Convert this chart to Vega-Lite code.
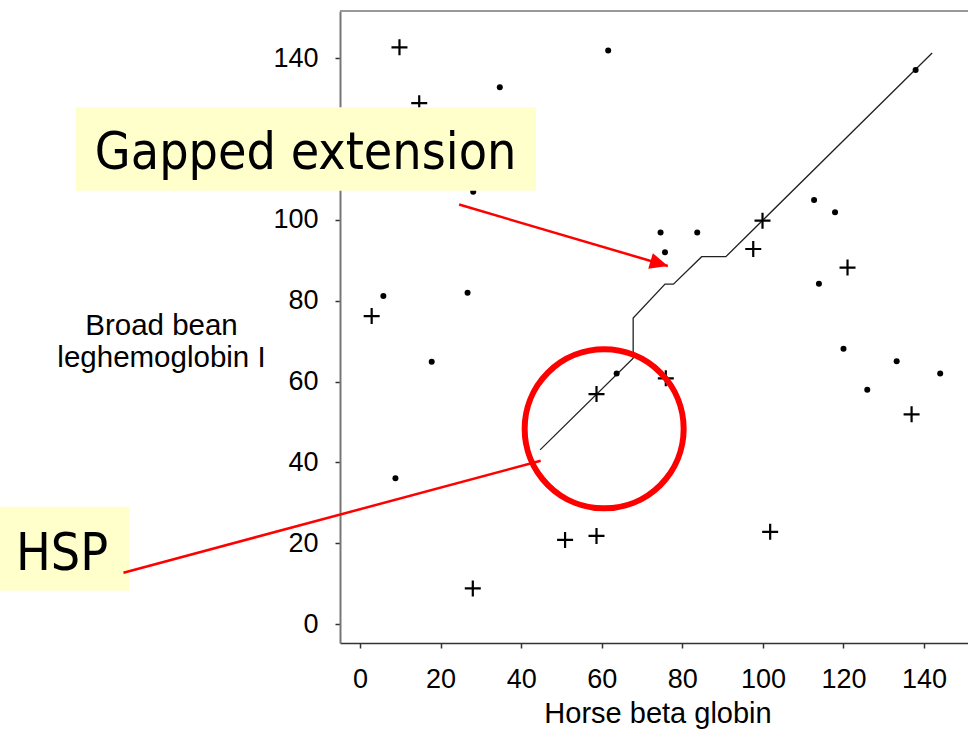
{
  "$schema": "https://vega.github.io/schema/vega-lite/v6.json",
  "width": 628,
  "height": 632,
  "autosize": {"type": "none"},
  "padding": {"left": 340, "top": 11, "right": 0, "bottom": 87},
  "background": "white",
  "config": {"view": {"stroke": null}},
  "datasets": {
    "path": [
      {"x": 44.7, "y": 43.1, "order": 1},
      {"x": 67.8, "y": 65.8, "order": 2},
      {"x": 67.8, "y": 75.7, "order": 3},
      {"x": 75.7, "y": 84.1, "order": 4},
      {"x": 77.8, "y": 84.1, "order": 5},
      {"x": 84.8, "y": 90.9, "order": 6},
      {"x": 90.8, "y": 90.9, "order": 7},
      {"x": 142.0, "y": 141.3, "order": 8}
    ],
    "plus": [
      {"x": 9.8, "y": 142.7},
      {"x": 14.7, "y": 128.9},
      {"x": 2.9, "y": 76.2},
      {"x": 58.7, "y": 56.9},
      {"x": 75.9, "y": 60.8},
      {"x": 50.9, "y": 20.8},
      {"x": 58.7, "y": 21.8},
      {"x": 28.0, "y": 8.8},
      {"x": 97.6, "y": 92.8},
      {"x": 99.9, "y": 99.8},
      {"x": 121.0, "y": 88.2},
      {"x": 136.9, "y": 51.9},
      {"x": 101.8, "y": 22.8}
    ],
    "dot": [
      {"x": 61.6, "y": 141.9},
      {"x": 34.7, "y": 132.8},
      {"x": 5.8, "y": 81.2},
      {"x": 26.7, "y": 82.0},
      {"x": 28.1, "y": 107.0},
      {"x": 8.8, "y": 36.1},
      {"x": 17.8, "y": 64.9},
      {"x": 63.7, "y": 62.0},
      {"x": 74.6, "y": 96.9},
      {"x": 75.7, "y": 92.0},
      {"x": 83.7, "y": 96.9},
      {"x": 112.7, "y": 104.9},
      {"x": 117.9, "y": 101.9},
      {"x": 113.9, "y": 84.2},
      {"x": 137.9, "y": 137.1},
      {"x": 120.0, "y": 68.1},
      {"x": 133.2, "y": 65.0},
      {"x": 125.9, "y": 58.0},
      {"x": 144.0, "y": 62.0}
    ],
    "boxes": [
      {"x": -70.5, "x2": 43.7, "y": 127.9, "y2": 107.2},
      {"x": -90, "x2": -57.3, "y": 29.0, "y2": 8.2}
    ],
    "labels": [
      {"x": -65.8, "y": 112.6, "text": "Gapped extension"},
      {"x": -85.4, "y": 13.4, "text": "HSP"}
    ],
    "redlines": [
      {"x": 24.6, "y": 103.8, "x2": 76.4, "y2": 88.6},
      {"x": -58.7, "y": 12.7, "x2": 44.85, "y2": 40.4}
    ],
    "arrowhead": [{"x": 76.4, "y": 88.6}],
    "ring": [{"x": 60.6, "y": 48.3}]
  },
  "layer": [
    {
      "data": {"name": "path"},
      "mark": {"type": "line", "color": "#222", "strokeWidth": 1.3},
      "encoding": {
        "x": {
          "field": "x", "type": "quantitative",
          "scale": {"domain": [-4.96, 150.9], "nice": false, "zero": false},
          "axis": {
            "values": [0, 20, 40, 60, 80, 100, 120, 140],
            "title": "Horse beta globin",
            "grid": false,
            "tickSize": 5, "tickColor": "#333", "tickWidth": 1.5,
            "domainColor": "#333", "domainWidth": 1.5,
            "labelFont": "Liberation Sans", "labelFontSize": 27, "labelColor": "#000",
            "labelPadding": 18, "labelFlush": false, "labelOverlap": false,
            "titleFont": "Liberation Sans", "titleFontSize": 29, "titleFontWeight": "normal",
            "titleColor": "#000", "titleBaseline": "alphabetic", "titleAlign": "center",
            "titleX": 317.5, "titleY": 79
          }
        },
        "y": {
          "field": "y", "type": "quantitative",
          "scale": {"domain": [-4.7, 151.7], "nice": false, "zero": false},
          "axis": {
            "values": [0, 20, 40, 60, 80, 100, 140],
            "title": ["Broad bean", "leghemoglobin I"],
            "grid": false,
            "tickSize": 5, "tickColor": "#333", "tickWidth": 1.5,
            "domainColor": "#777", "domainWidth": 2,
            "labelFont": "Liberation Sans", "labelFontSize": 27, "labelColor": "#000",
            "labelPadding": 17, "labelFlush": false, "labelOverlap": false,
            "titleFont": "Liberation Sans", "titleFontSize": 29.5, "titleFontWeight": "normal",
            "titleColor": "#000", "titleAngle": 0, "titleAlign": "center",
            "titleBaseline": "middle", "titleLineHeight": 32,
            "titleX": -179, "titleY": 314.6
          }
        },
        "order": {"field": "order", "type": "quantitative"}
      }
    },
    {
      "data": {"values": [{}]},
      "mark": {"type": "rule", "color": "#999", "strokeWidth": 2},
      "encoding": {"y": {"datum": 151.7, "type": "quantitative"}}
    },
    {
      "data": {"name": "plus"},
      "mark": {"type": "point", "shape": "M-1,0L1,0M0,-1L0,1", "filled": false, "stroke": "#000", "strokeWidth": 2.2, "size": 256, "opacity": 1},
      "encoding": {
        "x": {"field": "x", "type": "quantitative"},
        "y": {"field": "y", "type": "quantitative"}
      }
    },
    {
      "data": {"name": "dot"},
      "mark": {"type": "circle", "size": 36, "color": "#000", "opacity": 1},
      "encoding": {
        "x": {"field": "x", "type": "quantitative"},
        "y": {"field": "y", "type": "quantitative"}
      }
    },
    {
      "data": {"name": "boxes"},
      "mark": {"type": "rect", "fill": "#FFFFCC", "clip": false},
      "encoding": {
        "x": {"field": "x", "type": "quantitative"},
        "x2": {"field": "x2"},
        "y": {"field": "y", "type": "quantitative"},
        "y2": {"field": "y2"}
      }
    },
    {
      "data": {"name": "labels"},
      "mark": {"type": "text", "font": "DejaVu Sans Condensed, Open Sans, sans-serif", "fontSize": 51.5, "align": "left", "baseline": "alphabetic", "color": "#000"},
      "encoding": {
        "x": {"field": "x", "type": "quantitative"},
        "y": {"field": "y", "type": "quantitative"},
        "text": {"field": "text"}
      }
    },
    {
      "data": {"name": "redlines"},
      "mark": {"type": "rule", "color": "#FF0000", "strokeWidth": 2.5},
      "encoding": {
        "x": {"field": "x", "type": "quantitative"},
        "x2": {"field": "x2"},
        "y": {"field": "y", "type": "quantitative"},
        "y2": {"field": "y2"}
      }
    },
    {
      "data": {"name": "arrowhead"},
      "mark": {"type": "point", "shape": "M0,0L-2,-0.9L-2,0.9Z", "filled": true, "color": "#FF0000", "size": 324, "angle": 16.4, "opacity": 1},
      "encoding": {
        "x": {"field": "x", "type": "quantitative"},
        "y": {"field": "y", "type": "quantitative"}
      }
    },
    {
      "data": {"name": "ring"},
      "mark": {"type": "point", "shape": "circle", "filled": false, "stroke": "#FF0000", "strokeWidth": 6, "size": 25281, "opacity": 1},
      "encoding": {
        "x": {"field": "x", "type": "quantitative"},
        "y": {"field": "y", "type": "quantitative"}
      }
    }
  ]
}
